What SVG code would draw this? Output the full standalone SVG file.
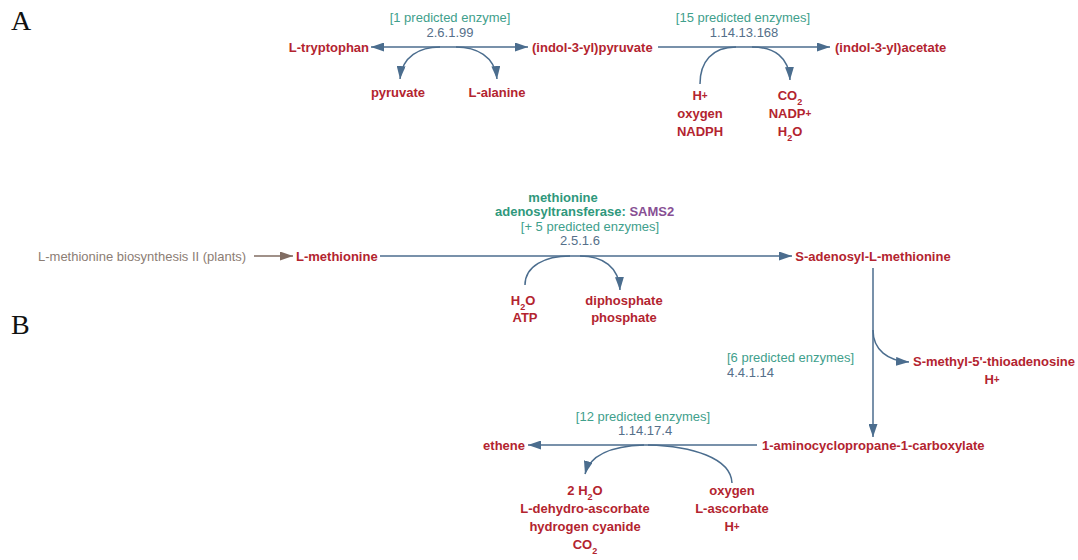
<svg xmlns="http://www.w3.org/2000/svg" width="1078" height="560" viewBox="0 0 1078 560">
  <style>
    .cpd { font-family: "Liberation Sans", Arial, sans-serif; font-size: 13px; font-weight: bold; fill: #b3242f; }
    .enz { font-family: "Liberation Sans", Arial, sans-serif; font-size: 13px; fill: #3fa08c; }
    .enzb { font-family: "Liberation Sans", Arial, sans-serif; font-size: 13px; font-weight: bold; fill: #2f987c; }
    .gene { fill: #874f94; font-weight: bold; }
    .ec { font-family: "Liberation Sans", Arial, sans-serif; font-size: 13px; fill: #556f8a; }
    .pw { font-family: "Liberation Sans", Arial, sans-serif; font-size: 13px; fill: #8c7d74; }
    .panel { font-family: "Liberation Serif", "Times New Roman", serif; font-size: 28px; fill: #111; }
    .sub { font-size: 9px; }
    .plus { font-size: 10px; }
    .rxn { fill: none; stroke: #4b6d8e; stroke-width: 1.5; }
    .link { fill: none; stroke: #806c62; stroke-width: 1.5; }
  </style>
  <defs>
    <marker id="head" viewBox="0 0 13 9" refX="13" refY="4.5" markerWidth="13" markerHeight="9" markerUnits="userSpaceOnUse" orient="auto-start-reverse">
      <path d="M0,0 L13,4.5 L0,9 z" fill="#4b6d8e"/>
    </marker>
    <marker id="headBrown" viewBox="0 0 13 9" refX="13" refY="4.5" markerWidth="13" markerHeight="9" markerUnits="userSpaceOnUse" orient="auto">
      <path d="M0,0 L13,4.5 L0,9 z" fill="#806c62"/>
    </marker>
  </defs>

  <!-- panel letters -->
  <text class="panel" x="11" y="30">A</text>
  <text class="panel" x="11" y="334">B</text>

  <!-- connectors -->
  <g id="connectors">
    <!-- A: L-tryptophan <-> (indol-3-yl)pyruvate -->
    <line class="rxn" x1="371" y1="47" x2="528" y2="47" marker-start="url(#head)" marker-end="url(#head)"/>
    <path class="rxn" d="M 440 47 C 420 47, 402 56, 400 79" marker-end="url(#head)"/>
    <path class="rxn" d="M 456 47 C 476 47, 495 56, 497 79" marker-end="url(#head)"/>
    <!-- A: (indol-3-yl)pyruvate -> (indol-3-yl)acetate -->
    <line class="rxn" x1="658" y1="47" x2="830" y2="47" marker-end="url(#head)"/>
    <path class="rxn" d="M 700 84 C 700 62, 712 47, 736 47"/>
    <path class="rxn" d="M 752 47 C 774 47, 789 57, 790 80" marker-end="url(#head)"/>

    <!-- B: pathway link -->
    <line class="link" x1="254" y1="256" x2="293" y2="256" marker-end="url(#headBrown)"/>
    <!-- B: L-methionine -> S-adenosyl-L-methionine -->
    <line class="rxn" x1="380" y1="256" x2="792" y2="256" marker-end="url(#head)"/>
    <path class="rxn" d="M 525 285 C 525 266, 545 256, 570 256"/>
    <path class="rxn" d="M 580 256 C 603 256, 619 267, 620 290" marker-end="url(#head)"/>
    <!-- B: S-adenosyl-L-methionine -> 1-aminocyclopropane-1-carboxylate -->
    <line class="rxn" x1="873" y1="268" x2="873" y2="437" marker-end="url(#head)"/>
    <path class="rxn" d="M 873 330 C 873 350, 888 361, 909 362" marker-end="url(#head)"/>
    <!-- B: 1-aminocyclopropane-1-carboxylate -> ethene -->
    <line class="rxn" x1="757" y1="445" x2="528" y2="445" marker-end="url(#head)"/>
    <path class="rxn" d="M 732 483 C 731 458, 692 446, 648 445"/>
    <path class="rxn" d="M 644 445 C 612 446, 590 455, 585 474" marker-end="url(#head)"/>
  </g>

  <!-- A compounds -->
  <g id="l-tryptophan"><text class="cpd" x="369" y="52" text-anchor="end">L-tryptophan</text></g>
  <g id="indolylpyruvate"><text class="cpd" x="532" y="52">(indol-3-yl)pyruvate</text></g>
  <g id="indolylacetate"><text class="cpd" x="835" y="52">(indol-3-yl)acetate</text></g>
  <g id="pyruvate"><text class="cpd" x="398" y="97" text-anchor="middle">pyruvate</text></g>
  <g id="l-alanine"><text class="cpd" x="497" y="97" text-anchor="middle">L-alanine</text></g>
  <g id="side-in-a2">
    <text class="cpd" x="700" y="100" text-anchor="middle">H<tspan class="plus" dy="-1">+</tspan></text>
    <text class="cpd" x="700" y="118" text-anchor="middle">oxygen</text>
    <text class="cpd" x="700" y="136" text-anchor="middle">NADPH</text>
  </g>
  <g id="side-out-a2">
    <text class="cpd" x="790" y="100" text-anchor="middle">CO<tspan class="sub" dy="5">2</tspan></text>
    <text class="cpd" x="790" y="118" text-anchor="middle">NADP<tspan class="plus" dy="-1">+</tspan></text>
    <text class="cpd" x="790" y="136" text-anchor="middle">H<tspan class="sub" dy="5">2</tspan><tspan dy="-5">O</tspan></text>
  </g>

  <!-- A enzymes -->
  <g id="enzyme-2-6-1-99">
    <text class="enz" x="450" y="22" text-anchor="middle">[1 predicted enzyme]</text>
    <text class="ec" x="450" y="37" text-anchor="middle">2.6.1.99</text>
  </g>
  <g id="enzyme-1-14-13-168">
    <text class="enz" x="743" y="22" text-anchor="middle">[15 predicted enzymes]</text>
    <text class="ec" x="744" y="37" text-anchor="middle">1.14.13.168</text>
  </g>

  <!-- B compounds -->
  <g id="met-pathway"><text class="pw" x="38" y="261">L-methionine biosynthesis II (plants)</text></g>
  <g id="l-methionine"><text class="cpd" x="296" y="261">L-methionine</text></g>
  <g id="sam"><text class="cpd" x="873" y="261" text-anchor="middle">S-adenosyl-L-methionine</text></g>
  <g id="side-in-b1">
    <text class="cpd" x="523" y="305" text-anchor="middle">H<tspan class="sub" dy="5">2</tspan><tspan dy="-5">O</tspan></text>
    <text class="cpd" x="525" y="322" text-anchor="middle">ATP</text>
  </g>
  <g id="side-out-b1">
    <text class="cpd" x="624" y="305" text-anchor="middle">diphosphate</text>
    <text class="cpd" x="624" y="322" text-anchor="middle">phosphate</text>
  </g>
  <g id="side-out-b2">
    <text class="cpd" x="913" y="366">S-methyl-5'-thioadenosine</text>
    <text class="cpd" x="992" y="384" text-anchor="middle">H<tspan class="plus" dy="-1">+</tspan></text>
  </g>
  <g id="acc"><text class="cpd" x="762" y="450">1-aminocyclopropane-1-carboxylate</text></g>
  <g id="ethene"><text class="cpd" x="525" y="450" text-anchor="end">ethene</text></g>
  <g id="side-out-b3">
    <text class="cpd" x="585" y="495" text-anchor="middle">2 H<tspan class="sub" dy="5">2</tspan><tspan dy="-5">O</tspan></text>
    <text class="cpd" x="585" y="513" text-anchor="middle">L-dehydro-ascorbate</text>
    <text class="cpd" x="585" y="531" text-anchor="middle">hydrogen cyanide</text>
    <text class="cpd" x="585" y="549" text-anchor="middle">CO<tspan class="sub" dy="5">2</tspan></text>
  </g>
  <g id="side-in-b3">
    <text class="cpd" x="732" y="495" text-anchor="middle">oxygen</text>
    <text class="cpd" x="732" y="513" text-anchor="middle">L-ascorbate</text>
    <text class="cpd" x="732" y="531" text-anchor="middle">H<tspan class="plus" dy="-1">+</tspan></text>
  </g>

  <!-- B enzymes -->
  <g id="enzyme-2-5-1-6">
    <text class="enzb" x="563" y="202" text-anchor="middle">methionine</text>
    <text class="enzb" x="495" y="216">adenosyltransferase: <tspan class="gene">SAMS2</tspan></text>
    <text class="enz" x="590" y="231" text-anchor="middle">[+ 5 predicted enzymes]</text>
    <text class="ec" x="580" y="245" text-anchor="middle">2.5.1.6</text>
  </g>
  <g id="enzyme-4-4-1-14">
    <text class="enz" x="727" y="362">[6 predicted enzymes]</text>
    <text class="ec" x="727" y="377">4.4.1.14</text>
  </g>
  <g id="enzyme-1-14-17-4">
    <text class="enz" x="643" y="421" text-anchor="middle">[12 predicted enzymes]</text>
    <text class="ec" x="645" y="435" text-anchor="middle">1.14.17.4</text>
  </g>
</svg>
